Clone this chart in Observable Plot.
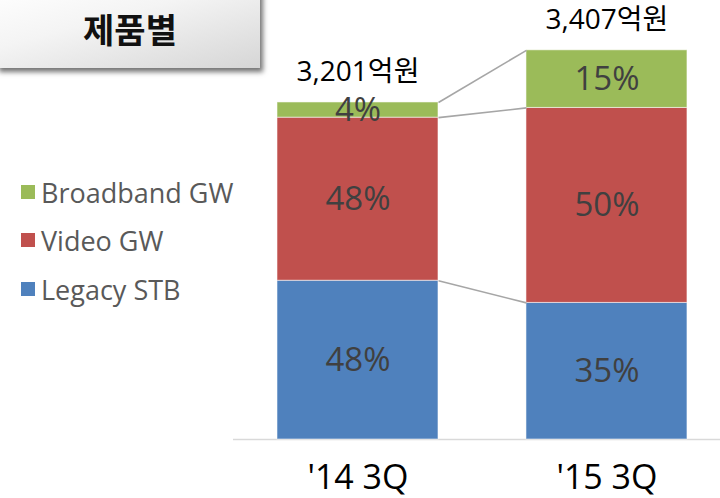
<!DOCTYPE html>
<html><head><meta charset="utf-8">
<script src="https://cdn.jsdelivr.net/npm/d3@7"></script>
<script src="https://cdn.jsdelivr.net/npm/@observablehq/plot@0.6"></script>
<style>
body{margin:0;background:#fff;}
#wrap{position:relative;width:720px;height:498px;overflow:hidden;font-family:"Open Sans","Noto Sans CJK KR",sans-serif;background:#fff;}
#chart{position:absolute;left:0;top:0;}
#title{position:absolute;left:-4px;top:-12px;width:264px;height:80px;
  background:linear-gradient(165deg,#ffffff 0%,#f4f4f4 40%,#d6d6d6 100%);
  box-shadow:3px 4px 5px rgba(0,0,0,0.55);
  font-family:"Noto Sans CJK KR",sans-serif;font-weight:700;font-size:34px;color:#111;
  text-align:center;line-height:80px;padding-top:0;box-sizing:border-box;}
#title span{position:relative;top:1px;left:2px;}
.lg{position:absolute;left:21px;display:flex;align-items:center;font-size:27px;color:#595959;white-space:nowrap;}
.lg i{display:inline-block;width:14px;height:14px;margin-right:6px;}
</style></head><body>
<div id="wrap"><div id="chart"></div><div id="title"><span>제품별</span></div><div id="legend"></div></div>
<script>
// Data
const periods = ["'14 3Q", "'15 3Q"];
const totals = [3201, 3407]; // 억원
const series = ["Legacy STB", "Video GW", "Broadband GW"]; // bottom -> top
const colors = ["#4f81bd", "#c0504d", "#9bbb59"];
const legacyShare = [48, 35];
const videoShare = [48, 50];
const broadbandShare = [4, 15];
// segment sizes (relative units, '15 3Q bar = 100)
const legacySize = [40.8, 35.1];
const videoSize = [41.9, 50.1];
const broadbandSize = [3.9, 14.8];

const shares = [legacyShare, videoShare, broadbandShare];
const sizes = [legacySize, videoSize, broadbandSize];

const bw = 0.6466; // bar width in x units
const rows = [];
periods.forEach((p, i) => {
  let acc = 0;
  series.forEach((s, k) => {
    const v = sizes[k][i];
    rows.push({i, period: p, series: s, color: colors[k], y1: acc, y2: acc + v, share: shares[k][i]});
    acc += v;
  });
});
const tops = periods.map((p, i) => ({i, top: d3.sum(sizes, s => s[i]), total: totals[i], period: p}));
const links = series.map((s, k) => {
  const a = rows.find(r => r.i === 0 && r.series === s);
  const b = rows.find(r => r.i === 1 && r.series === s);
  return {x1: 0 + bw / 2, x2: 1 - bw / 2, y1: a.y2, y2: b.y2};
});

const plot = Plot.plot({
  width: 720, height: 498,
  marginLeft: 233, marginRight: 0, marginTop: 0, marginBottom: 59,
  x: {domain: [-0.5, 1.456], axis: null},
  y: {domain: [0, 112.8], axis: null},
  style: {fontFamily: '"Open Sans","Noto Sans CJK KR",sans-serif', background: "#fff", overflow: "visible"},
  marks: [
    Plot.ruleY([0], {stroke: "#d9d9d9", strokeWidth: 1.5}),
    Plot.rect(rows, {x1: d => d.i - bw / 2, x2: d => d.i + bw / 2, y1: "y1", y2: "y2", fill: "color", stroke: "#ffffff", strokeOpacity: 0.55, strokeWidth: 1}),
    Plot.link(links, {x1: "x1", x2: "x2", y1: "y1", y2: "y2", stroke: "#a6a6a6", strokeWidth: 1.6}),
    Plot.text(rows, {x: "i", y: d => (d.y1 + d.y2) / 2, text: d => d.share + "%", fill: "#404040", fontSize: 33, style: "letter-spacing:1px"}),
    Plot.text(tops, {x: "i", y: "top", text: d => d3.format(",")(d.total) + "억원", dy: -30, fill: "#000", fontSize: 28}),
    Plot.text(tops, {x: "i", y: 0, text: "period", dy: 39, fill: "#000", fontSize: 34})
  ]
});
document.getElementById("chart").appendChild(plot);

// legend (top -> bottom: Broadband, Video, Legacy)
const legendTops = [192, 240, 289];
const lg = document.getElementById("legend");
[2, 1, 0].forEach((k, j) => {
  const d = document.createElement("div");
  d.className = "lg";
  d.style.top = (legendTops[j] - 20) + "px";
  d.style.height = "40px";
  d.innerHTML = `<i style="background:${colors[k]}"></i><span>${series[k]}</span>`;
  lg.appendChild(d);
});
</script>
</body></html>
